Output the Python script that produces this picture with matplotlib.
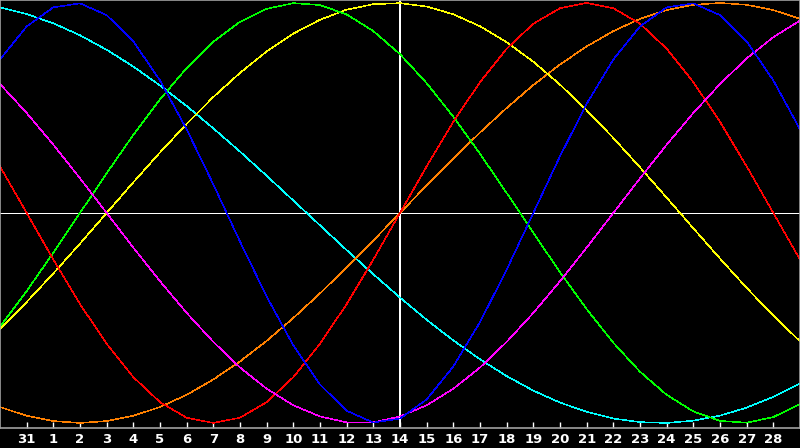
import matplotlib
matplotlib.use('Agg')
import matplotlib.pyplot as plt

#days shown, from the 30th of last month to the 29th
days = list(range(-1, 30))
ticks = list(range(0, 29))
tick_labels = ['31'] + [str(i) for i in range(1, 29)]
today = 14

#cycle values read per day
physical     = [0.731, 0.888, 0.979, 0.998, 0.942, 0.817, 0.631, 0.398, 0.136, -0.136,
                -0.398, -0.631, -0.817, -0.942, -0.998, -0.979, -0.888, -0.731, -0.520, -0.270,
                0.0, 0.270, 0.520, 0.731, 0.888, 0.979, 0.998, 0.942, 0.817, 0.631, 0.398]
emotional    = [0.222, 0.0, -0.222, -0.434, -0.623, -0.782, -0.901, -0.975, -1.0, -0.975,
                -0.901, -0.782, -0.623, -0.434, -0.222, 0.0, 0.222, 0.434, 0.623, 0.782,
                0.901, 0.975, 1.0, 0.975, 0.901, 0.782, 0.623, 0.434, 0.222, 0.0, -0.222]
intellectual = [-0.541, -0.372, -0.189, 0.0, 0.189, 0.372, 0.541, 0.690, 0.815, 0.910,
                0.972, 0.999, 0.990, 0.945, 0.866, 0.756, 0.618, 0.458, 0.282, 0.095,
                -0.095, -0.282, -0.458, -0.618, -0.756, -0.866, -0.945, -0.990, -0.999, -0.972, -0.910]
intuitive    = [0.614, 0.476, 0.325, 0.165, 0.0, -0.165, -0.325, -0.476, -0.614, -0.736,
                -0.837, -0.916, -0.969, -0.997, -0.997, -0.969, -0.916, -0.837, -0.736, -0.614,
                -0.476, -0.325, -0.165, 0.0, 0.165, 0.325, 0.476, 0.614, 0.736, 0.837, 0.916]
aesthetic    = [-0.552, -0.424, -0.288, -0.146, 0.0, 0.146, 0.288, 0.424, 0.552, 0.667,
                0.769, 0.854, 0.920, 0.968, 0.994, 0.999, 0.983, 0.946, 0.889, 0.813,
                0.720, 0.611, 0.489, 0.357, 0.217, 0.073, -0.073, -0.217, -0.357, -0.489, -0.611]
awareness    = [-0.924, -0.966, -0.991, -1.0, -0.991, -0.966, -0.924, -0.866, -0.793, -0.707,
                -0.609, -0.5, -0.383, -0.259, -0.131, 0.0, 0.131, 0.259, 0.383, 0.5,
                0.609, 0.707, 0.793, 0.866, 0.924, 0.966, 0.991, 1.0, 0.991, 0.966, 0.924]
spiritual    = [0.979, 0.947, 0.903, 0.846, 0.777, 0.697, 0.607, 0.509, 0.403, 0.292,
                0.177, 0.059, -0.059, -0.177, -0.292, -0.403, -0.509, -0.607, -0.697, -0.777,
                -0.846, -0.903, -0.947, -0.979, -0.996, -1.0, -0.989, -0.965, -0.927, -0.876, -0.813]

series = [(spiritual, '#00ffff'),
          (awareness, '#ff8000'),
          (aesthetic, '#ffff00'),
          (intellectual, '#00ff00'),
          (emotional, '#ff0000'),
          (intuitive, '#ff00ff'),
          (physical, '#0000ff')]

fig = plt.figure(figsize=(8, 4.48), dpi=100, facecolor='black')
ax = fig.add_axes([0, 20/448., 1, 428/448.])
ax.set_facecolor('black')

ax.axhline(0, color='white', lw=0.72, antialiased=False, zorder=1)
ax.axvline(today, color='white', lw=1.44, antialiased=False, zorder=1)
for vals, col in series:
    ax.plot(days, vals, color=col, lw=0.4, antialiased=False, zorder=2)

ax.set_xlim(-1, 29)
ax.set_ylim(-1.024, 1.014)
ax.set_yticks([])
ax.set_xticks(ticks)
ax.set_xticklabels(tick_labels)
ax.tick_params(axis='x', direction='in', length=4, width=1, color='white',
               labelcolor='white', labelsize=9.5, pad=3.5)
for lab in ax.get_xticklabels():
    lab.set_fontweight('bold')
for s in ax.spines.values():
    s.set_color('#a0a0a0')
    s.set_linewidth(1.2)

fig.savefig('out.png', dpi=100, facecolor='black')
